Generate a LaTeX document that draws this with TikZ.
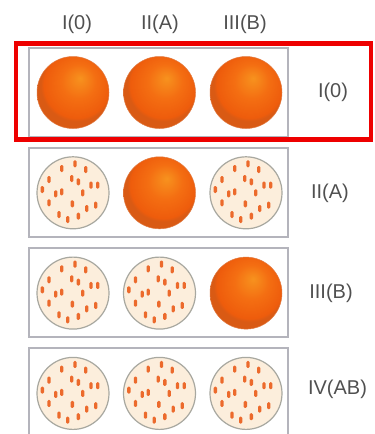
\documentclass[tikz,border=0pt]{standalone}
\usepackage{fontspec}
\setmainfont{Liberation Sans}
\usetikzlibrary{positioning}

\definecolor{texto}{HTML}{505050}
\definecolor{caja}{HTML}{B4B4BC}
\definecolor{marco}{HTML}{EE0000}
\definecolor{crema}{HTML}{FCEEDC}
\definecolor{aro}{HTML}{A8A8A0}
\definecolor{marca}{HTML}{EC6A2C}
\definecolor{naranjaclaro}{HTML}{F7921E}
\definecolor{naranja}{HTML}{F46E12}
\definecolor{naranjaoscuro}{HTML}{EE5C0C}
\definecolor{borde}{HTML}{D95A14}

\pgfdeclareradialshading{esfera}{\pgfpoint{5bp}{10bp}}{%
  color(0bp)=(naranjaclaro); color(12bp)=(naranja);
  color(23bp)=(naranjaoscuro); color(25bp)=(borde); color(50bp)=(borde)}

\tikzset{
  etiqueta/.style={text=texto, font=\fontsize{20}{22}\selectfont, inner sep=0pt},
  fila/.style={draw=caja, line width=1.5pt, fill=white},
  esfera/.style={circle, minimum size=72pt, inner sep=0pt, shading=esfera, draw=borde!80, line width=0.5pt},
  celda/.style={circle, minimum size=72pt, inner sep=0pt, fill=crema, draw=aro, line width=1.2pt},
  marcabox/.style={fill=marca, rounded corners=1.3pt}
}

\newcommand{\listamarcas}{2/-29, -11.3/-24.3, 12.7/-23.3, -24/-13.3, -1.3/-14.3,
  5.3/-11, 18/-7.7, 24.7/-7.7, -30.7/-3.3, -17.3/1, -11.3/-1, 9.7/0,
  -24/10, -0.7/11, 13.7/15.7, 22.7/12.3, -14/21.7, -5.3/26.7, 5.3/23.3}

\begin{document}
\begin{tikzpicture}[x=1pt, y=-1pt]
\useasboundingbox (0,0) rectangle (375,434);

% Columnas
\node[etiqueta] (col-1) at (77,24) {I(0)};
\node[etiqueta] (col-2) at (160,24) {II(A)};
\node[etiqueta] (col-3) at (245,24) {III(B)};

% Filas (1 = esfera, 0 = celda con marcas)
\foreach \tipos [count=\r from 0] in {{1,1,1}, {0,1,0}, {0,0,1}, {0,0,0}} {
  \draw[fila] (29,48+100*\r) rectangle (288,137+100*\r);
  \foreach \t [count=\c] in \tipos {
    \ifnum\t=1
      \node[esfera] (c-\r-\c) at (73+86.5*\c-86.5,92.5+100.3*\r) {};
    \else
      \node[celda] (c-\r-\c) at (73+86.5*\c-86.5,92.5+100.3*\r) {};
      \foreach \mx/\my in \listamarcas
        \fill[marcabox] ([shift={(\mx-1.7,\my-3.5)}]c-\r-\c.center) rectangle ++(3.4,7);
    \fi
  }
}

% Grupos
\node[etiqueta] (fila-0) at (333,92.5) {I(0)};
\node[etiqueta] (fila-1) at (330,193) {II(A)};
\node[etiqueta] (fila-2) at (331,293) {III(B)};
\node[etiqueta] (fila-3) at (337.5,389) {IV(AB)};

% Marco
\draw[marco, line width=4.5pt] (16,43.5) rectangle (371,139.5);
\end{tikzpicture}
\end{document}
